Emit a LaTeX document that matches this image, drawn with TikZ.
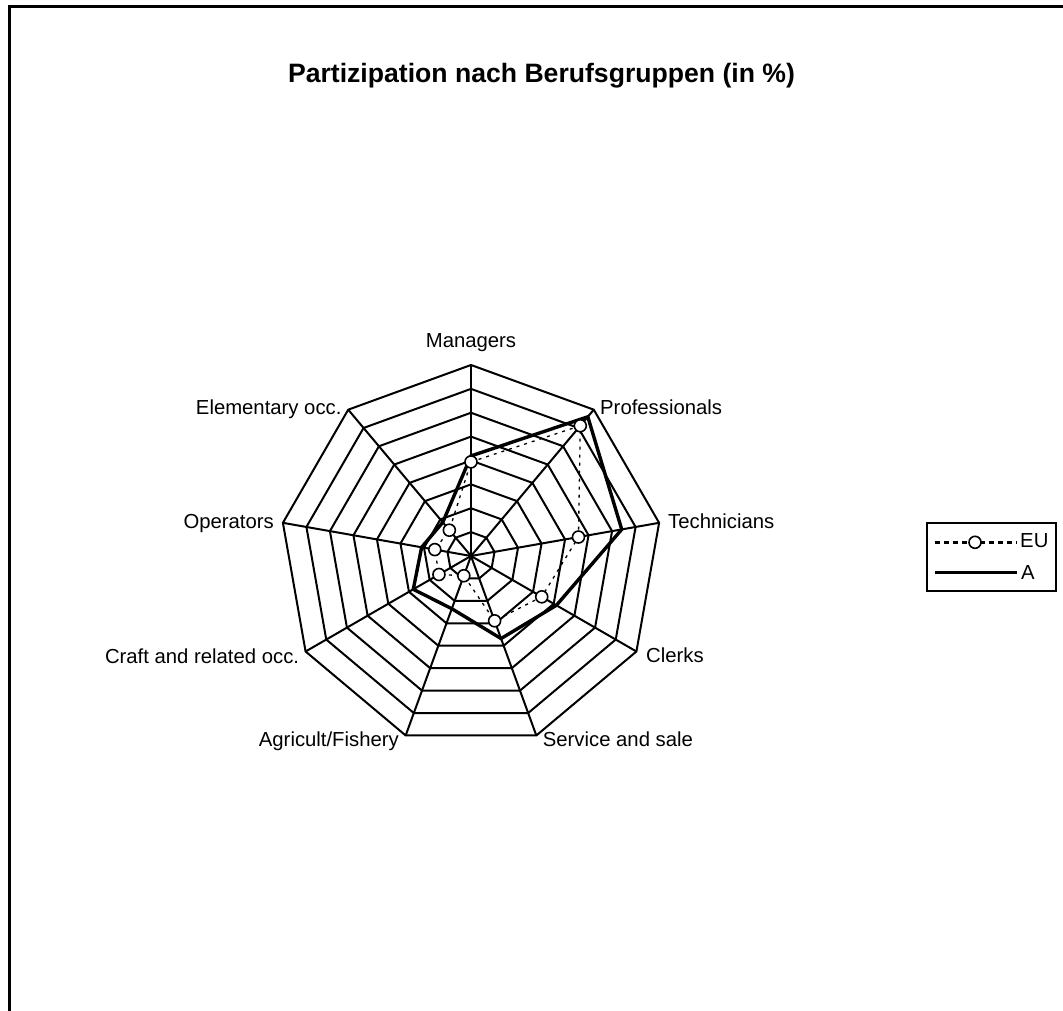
\documentclass[tikz,border=0pt]{standalone}
\usepackage{fontspec}
\setmainfont{Liberation Sans}
\begin{document}
\begin{tikzpicture}[x=1pt,y=1pt,
  gridline/.style={line width=2pt, line join=miter},
  aline/.style={line width=3.4pt, line join=miter},
  euline/.style={line width=1.3pt, dash pattern=on 3pt off 5pt},
  marker/.style={circle, draw, line width=1.6pt, fill=white, minimum size=12pt, inner sep=0pt},
  axlabel/.style={inner sep=0pt, font=\fontsize{20.3}{24}\selectfont},
]
\useasboundingbox (0,0) rectangle (1063,1011);
\draw[line width=3pt] (1063,1004.5) -- (9.5,1004.5) -- (9.5,0);
\node[font=\bfseries\fontsize{26.6}{30}\selectfont, inner sep=0pt, anchor=base] (title) at (541.5,928) {Partizipation nach Berufsgruppen (in \%)};

\begin{scope}[shift={(471,455)}, scale=2.3875]
  \coordinate (O) at (0,0);
  \foreach \ang [count=\i] in {90,50,10,-30,-70,-110,-150,170,130} {
    \coordinate (v\i) at (\ang:80);
    \draw[gridline] (O) -- (v\i);
  }
  \foreach \k in {10,20,...,80} {
    \draw[gridline] (90:\k) -- (50:\k) -- (10:\k) -- (-30:\k) -- (-70:\k) -- (-110:\k) -- (-150:\k) -- (170:\k) -- (130:\k) -- cycle;
  }
  \foreach \ang/\v [count=\i] in {90/41.9,50/76.1,10/64.1,-30/41.3,-70/36.8,-110/23.5,-150/27.9,170/21.0,130/18.4}
    \coordinate (a\i) at (\ang:\v);
  \foreach \ang/\v [count=\i] in {90/39.4,50/71.2,10/45.7,-30/34.2,-70/28.9,-110/8.8,-150/15.5,170/15.4,130/14.1}
    \coordinate (e\i) at (\ang:\v);
  \draw[aline] (a1) -- (a2) -- (a3) -- (a4) -- (a5) -- (a6) -- (a7) -- (a8) -- (a9) -- cycle;
  \draw[euline] (e1) -- (e2) -- (e3) -- (e4) -- (e5) -- (e6) -- (e7) -- (e8) -- (e9) -- cycle;
  \foreach \i in {1,...,9} \node[marker] (m\i) at (e\i) {};
\end{scope}

\node[axlabel, anchor=base] (lmgr) at (471,663) {Managers};
\node[axlabel, anchor=base west] (lpro) at (600,596) {Professionals};
\node[axlabel, anchor=base west] (ltec) at (668,482.7) {Technicians};
\node[axlabel, anchor=base west] (lclk) at (646,348.3) {Clerks};
\node[axlabel, anchor=base west] (lser) at (542.7,264.3) {Service and sale};
\node[axlabel, anchor=base east] (lagr) at (399,264.3) {Agricult/Fishery};
\node[axlabel, anchor=base east] (lcra) at (299.3,347.7) {Craft and related occ.};
\node[axlabel, anchor=base east] (lope) at (274,482.7) {Operators};
\node[axlabel, anchor=base east] (lele) at (341.7,596) {Elementary occ.};

\node[draw, line width=1.7pt, minimum width=128.7pt, minimum height=68pt, inner sep=0pt] (legend) at (991.65,454.3) {};
\coordinate (l1a) at (935,468.7);
\coordinate (l1b) at (1016.7,468.7);
\coordinate (l2a) at (935,438.3);
\coordinate (l2b) at (1016.7,438.3);
\draw[line width=2.8pt, dash pattern=on 4.5pt off 4.5pt] (l1a) -- (l1b);
\node[marker] (lm) at (975,468.7) {};
\draw[line width=3.4pt] (l2a) -- (l2b);
\node[axlabel, anchor=base west] (leu) at (1020,463.7) {EU};
\node[axlabel, anchor=base west] (la) at (1021,431) {A};
\end{tikzpicture}
\end{document}
